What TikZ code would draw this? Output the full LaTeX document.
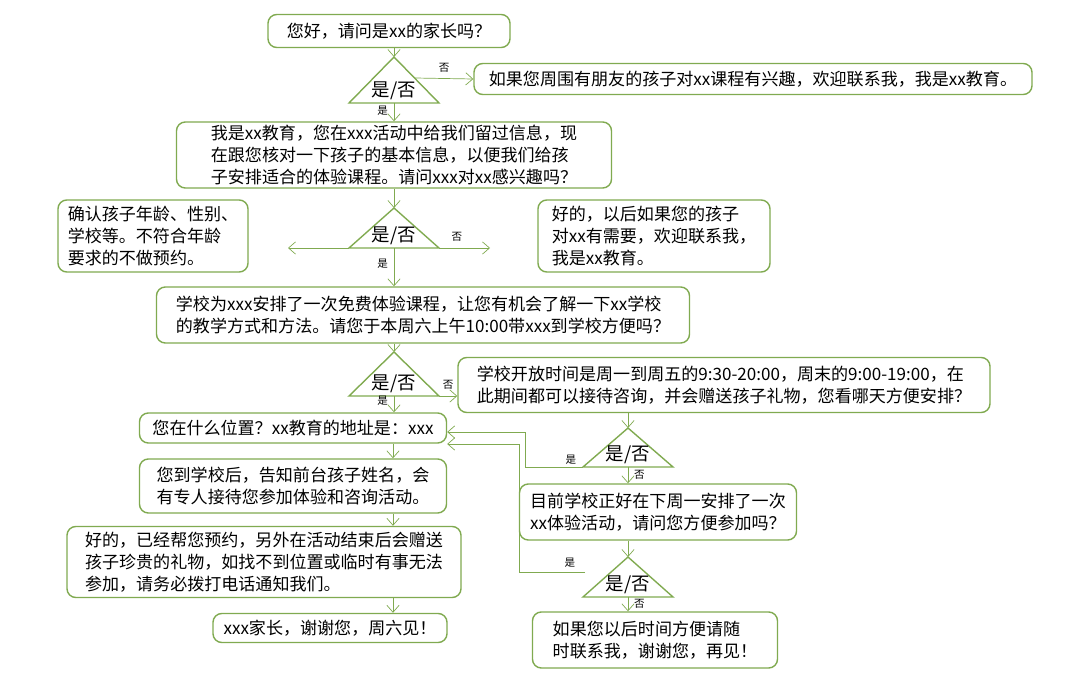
\documentclass[tikz,border=0pt]{standalone}
\usepackage{fontspec}
\setmainfont{Noto Sans CJK SC}
\usetikzlibrary{arrows.meta}
\definecolor{leaf}{RGB}{128,170,80}
\tikzset{
  box/.style={draw=leaf, thick, rounded corners=5pt, fill=white, align=left,
    inner sep=0pt, font=\fontsize{9.7}{12.5}\selectfont},
  flow/.style={draw=leaf, -{Straight Barb[length=4pt,width=7pt]}},
  link/.style={draw=leaf},
  tiny/.style={font=\fontsize{6}{7}\selectfont},
}
% decision triangle: name, x, apex y, base y
\newcommand\decision[4]{%
  \draw[leaf, thick] (#2-45,#4) coordinate (#1-l) -- (#2,#3) coordinate (#1-t)
    -- (#2+45,#4) coordinate (#1-r) -- cycle;
  \coordinate (#1-b) at (#2,#4);
  \node[font=\fontsize{10.5}{12}\selectfont] (#1) at (#2,#4-12) {是/否};}
\begin{document}
\begin{tikzpicture}[x=0.02cm, y=-0.02cm]
\useasboundingbox (0,0) rectangle (1080,679);

% question boxes
\node[box, minimum width=242*0.02cm, minimum height=33*0.02cm] (greet) at (389,31) {您好，请问是xx的家长吗？};
\node[box, minimum width=558*0.02cm, minimum height=31*0.02cm] (friend) at (753,79) {如果您周围有朋友的孩子对xx课程有兴趣，欢迎联系我，我是xx教育。};
\node[box, minimum width=435*0.02cm, minimum height=66*0.02cm] (intro) at (394,155) {我是xx教育，您在xxx活动中给我们留过信息，现\\在跟您核对一下孩子的基本信息，以便我们给孩\\子安排适合的体验课程。请问xxx对xx感兴趣吗？};
\node[box, minimum width=190*0.02cm, minimum height=72*0.02cm] (check) at (153,236) {确认孩子年龄、性别、\\学校等。不符合年龄\\要求的不做预约。};
\node[box, minimum width=232*0.02cm, minimum height=72*0.02cm] (later) at (654,236) {好的，以后如果您的孩子\\对xx有需要，欢迎联系我，\\我是xx教育。};
\node[box, minimum width=533*0.02cm, minimum height=56*0.02cm] (trial) at (423,315) {学校为xxx安排了一次免费体验课程，让您有机会了解一下xx学校\\的教学方式和方法。请您于本周六上午10:00带xxx到学校方便吗？};
\node[box, minimum width=532*0.02cm, minimum height=55*0.02cm] (hours) at (724,385) {学校开放时间是周一到周五的9:30-20:00，周末的9:00-19:00，在\\此期间都可以接待咨询，并会赠送孩子礼物，您看哪天方便安排？};
\node[box, minimum width=307*0.02cm, minimum height=30*0.02cm] (where) at (293,428) {您在什么位置？xx教育的地址是：xxx};
\node[box, minimum width=307*0.02cm, minimum height=54*0.02cm] (front) at (293,486) {您到学校后，告知前台孩子姓名，会\\有专人接待您参加体验和咨询活动。};
\node[box, minimum width=394*0.02cm, minimum height=71*0.02cm] (booked) at (264,562) {好的，已经帮您预约，另外在活动结束后会赠送\\孩子珍贵的礼物，如找不到位置或临时有事无法\\参加，请务必拨打电话通知我们。};
\node[box, minimum width=234*0.02cm, minimum height=29*0.02cm] (bye) at (330,628) {xxx家长，谢谢您，周六见！};
\node[box, minimum width=277*0.02cm, minimum height=56*0.02cm] (monday) at (658,512) {目前学校正好在下周一安排了一次\\xx体验活动，请问您方便参加吗？};
\node[box, minimum width=245*0.02cm, minimum height=56*0.02cm] (again) at (655,640) {如果您以后时间方便请随\\时联系我，谢谢您，再见！};

% decisions
\decision{parent}{394}{57}{103}
\decision{interest}{394}{208}{248}
\decision{saturday}{394}{352}{396}
\decision{other}{628}{428}{467}
\decision{join}{628}{557}{597}

% connectors
\draw[flow] (greet.south -| parent-t) -- (parent-t);
\coordinate (parent-e) at (415,78);
\draw[flow] (parent-e) -- (friend.west) node[tiny, midway, above] {否};
\draw[flow] (parent-b) -- (intro.north -| parent-b) node[tiny, pos=0.4, left] {是};
\draw[flow] (intro.south -| interest-t) -- (interest-t);
\coordinate (interest-w) at (288,248);
\coordinate (interest-e) at (490,248);
\draw[flow] (interest-l) -- (interest-w);
\draw[flow] (interest-r) -- (interest-e) node[tiny, pos=0.35, above] {否};
\draw[flow] (interest-b) -- (trial.north -| interest-b) node[tiny, pos=0.4, left] {是};
\draw[flow] (trial.south -| saturday-t) -- (saturday-t);
\draw[flow] (saturday-r) -- (saturday-r -| hours.west) node[tiny, midway, above] {否};
\draw[flow] (saturday-b) -- (where.north -| saturday-b) node[tiny, pos=0.3, left] {是};
\draw[flow] (where.south -| 393,0) -- (front.north -| 393,0);
\draw[flow] (front.south -| 393,0) -- (booked.north -| 393,0);
\draw[flow] (booked.south -| 393,0) -- (bye.north -| 393,0);
\draw[flow] (hours.south -| other-t) -- (other-t);
\draw[flow] (other-b) -- (monday.north -| other-b) node[tiny, midway, right] {否};
\draw[flow] (other-l) -- (525,467) -- (525,432) -- (where.east |- 0,432);
\node[tiny] (yes1) at (571,460) {是};
\draw[flow] (monday.south -| join-t) -- (join-t);
\draw[flow] (join-b) -- (again.north -| join-b) node[tiny, midway, right] {否};
\coordinate (join-w) at (585,572);
\draw[flow] (join-w) -- (519,572) -- (519,444) -- (where.east |- 0,444);
\node[tiny] (yes2) at (570,563) {是};
\end{tikzpicture}
\end{document}
